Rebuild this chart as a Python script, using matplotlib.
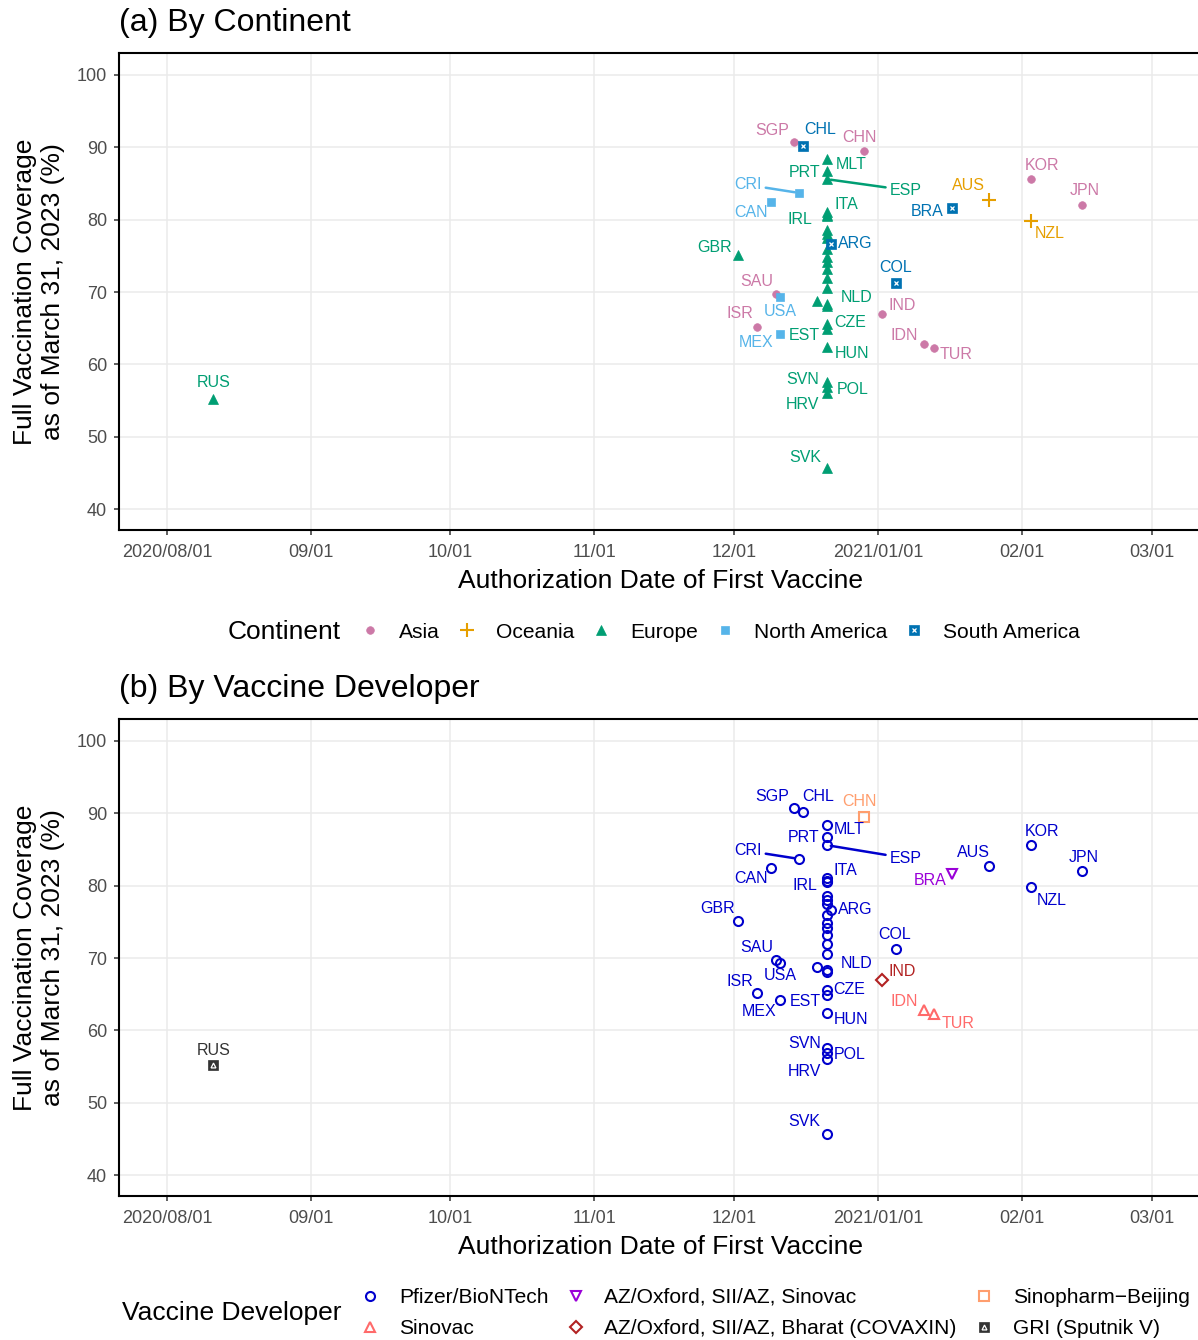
import pandas as pd
import matplotlib
matplotlib.use("Agg")
import matplotlib.pyplot as plt
import matplotlib.dates as mdates
from matplotlib.lines import Line2D

plt.rcParams['font.family'] = ['Liberation Sans', 'DejaVu Sans']

# ---- data ----
countries = ['RUS', 'GBR', 'ISR', 'CAN', 'SAU', 'USA', 'MEX', 'SGP', 'CRI', 'CHL',
             'CHE', 'MLT', 'PRT', 'ESP', 'ITA', 'DNK', 'IRL', 'BEL', 'FIN', 'FRA',
             'DEU', 'SWE', 'LUX', 'GRC', 'CYP', 'LTU', 'NLD', 'AUT', 'CZE', 'EST',
             'HUN', 'SVN', 'POL', 'HRV', 'SVK', 'ARG', 'CHN', 'IND', 'COL', 'IDN',
             'TUR', 'BRA', 'AUS', 'NZL', 'KOR', 'JPN']
auth_dates = ['2020-08-11', '2020-12-02', '2020-12-06', '2020-12-09', '2020-12-10',
              '2020-12-11', '2020-12-11', '2020-12-14', '2020-12-15', '2020-12-16',
              '2020-12-19', '2020-12-21', '2020-12-21', '2020-12-21', '2020-12-21',
              '2020-12-21', '2020-12-21', '2020-12-21', '2020-12-21', '2020-12-21',
              '2020-12-21', '2020-12-21', '2020-12-21', '2020-12-21', '2020-12-21',
              '2020-12-21', '2020-12-21', '2020-12-21', '2020-12-21', '2020-12-21',
              '2020-12-21', '2020-12-21', '2020-12-21', '2020-12-21', '2020-12-21',
              '2020-12-22', '2020-12-29', '2021-01-02', '2021-01-05', '2021-01-11',
              '2021-01-13', '2021-01-17', '2021-01-25', '2021-02-03', '2021-02-03',
              '2021-02-14']
coverage = [55.2, 75.1, 65.1, 82.5, 69.7, 69.3, 64.2, 90.8, 83.7, 90.2,
            68.8, 88.4, 86.7, 85.6, 81.0, 80.7, 80.5, 78.6, 78.0, 77.5,
            75.9, 74.8, 74.1, 73.2, 71.9, 70.6, 68.3, 68.0, 65.6, 64.9,
            62.4, 57.6, 56.8, 56.0, 45.7, 76.6, 89.5, 67.0, 71.2, 62.8,
            62.3, 81.6, 82.7, 79.8, 85.6, 82.0]
continents = ['Europe', 'Europe', 'Asia', 'North America', 'Asia', 'North America',
              'North America', 'Asia', 'North America', 'South America',
              'Europe', 'Europe', 'Europe', 'Europe', 'Europe', 'Europe', 'Europe',
              'Europe', 'Europe', 'Europe', 'Europe', 'Europe', 'Europe', 'Europe',
              'Europe', 'Europe', 'Europe', 'Europe', 'Europe', 'Europe', 'Europe',
              'Europe', 'Europe', 'Europe', 'Europe', 'South America', 'Asia', 'Asia',
              'South America', 'Asia', 'Asia', 'South America', 'Oceania', 'Oceania',
              'Asia', 'Asia']
PF = 'Pfizer/BioNTech'
developers = ['GRI (Sputnik V)'] + [PF] * 35 + \
             ['Sinopharm\u2212Beijing', 'AZ/Oxford, SII/AZ, Bharat (COVAXIN)', PF,
              'Sinovac', 'Sinovac', 'AZ/Oxford, SII/AZ, Sinovac', PF, PF, PF, PF]
hidden_labels = ['CHE', 'DNK', 'BEL', 'FIN', 'FRA', 'DEU', 'SWE', 'LUX', 'GRC',
                 'CYP', 'LTU', 'AUT']

tick_dates = ['2020-08-01', '2020-09-01', '2020-10-01', '2020-11-01', '2020-12-01',
              '2021-01-01', '2021-02-01', '2021-03-01']
tick_labels = ['2020/08/01', '09/01', '10/01', '11/01', '12/01', '2021/01/01',
               '02/01', '03/01']

continent_order = ['Asia', 'Oceania', 'Europe', 'North America', 'South America']
developer_order = [PF, 'Sinovac', 'AZ/Oxford, SII/AZ, Sinovac',
                   'AZ/Oxford, SII/AZ, Bharat (COVAXIN)', 'Sinopharm\u2212Beijing',
                   'GRI (Sputnik V)']

# ---- styles ----
continent_style = {
    'Asia': dict(color='#CC79A7', marker='o', ms=5.5, mfc='#CC79A7', mew=0.5),
    'Oceania': dict(color='#E69F00', marker='+', ms=10, mfc='none', mew=1.5),
    'Europe': dict(color='#009E73', marker='^', ms=6.5, mfc='#009E73', mew=0.5),
    'North America': dict(color='#56B4E9', marker='s', ms=6, mfc='#56B4E9', mew=0.5),
    'South America': dict(color='#0072B2', marker='s', ms=6.5, mfc='#0072B2', mew=0.5,
                          inner='x', inner_ms=3.5),
}
developer_style = {
    PF: dict(color='#0000CD', marker='o', ms=6.5, mfc='none', mew=1.5),
    'Sinovac': dict(color='#FF6A6A', marker='^', ms=7.5, mfc='none', mew=1.5),
    'AZ/Oxford, SII/AZ, Sinovac': dict(color='#9A00D8', marker='v', ms=7.5, mfc='none', mew=1.5),
    'AZ/Oxford, SII/AZ, Bharat (COVAXIN)': dict(color='#B22222', marker='D', ms=6, mfc='none', mew=1.5),
    'Sinopharm\u2212Beijing': dict(color='#FF9E6E', marker='s', ms=6.5, mfc='none', mew=1.5),
    'GRI (Sputnik V)': dict(color='#333333', marker='s', ms=6.5, mfc='#333333', mew=0.5,
                            inner='^', inner_ms=3.5),
}

# label offsets in pixels (dx right, dy up) -- ggrepel placements
offsets_a = {'RUS': (0, 17), 'GBR': (-24, 8), 'CAN': (-20, -11), 'CRI': (-51, 8),
             'ESP': (79, -11), 'SGP': (-22, 11), 'CHL': (17, 16), 'CHN': (-4, 13),
             'PRT': (-22, -1), 'MLT': (24, -6), 'ITA': (20, 8), 'IRL': (-27, -3),
             'ARG': (24, 1), 'COL': (-1, 16), 'SAU': (-19, 13), 'USA': (0, -14),
             'ISR': (-17, 14), 'MEX': (-24, -9), 'NLD': (30, 7), 'IND': (20, 8),
             'CZE': (23, 1), 'EST': (-22, -7), 'HUN': (25, -7), 'IDN': (-20, 9),
             'TUR': (22, -7), 'SVN': (-24, 2), 'POL': (26, -2), 'HRV': (-24, -11),
             'SVK': (-21, 10), 'BRA': (-25, -3), 'AUS': (-21, 15), 'NZL': (19, -12),
             'KOR': (11, 14), 'JPN': (2, 15)}
offsets_b = {'RUS': (0, 15), 'GBR': (-21, 13), 'CAN': (-20, -11), 'CRI': (-51, 8),
             'ESP': (79, -13), 'SGP': (-22, 11), 'CHL': (15, 15), 'CHN': (-4, 15),
             'PRT': (-23, 0), 'MLT': (22, -5), 'ITA': (19, 8), 'IRL': (-22, -3),
             'ARG': (24, 1), 'COL': (-2, 15), 'SAU': (-19, 13), 'USA': (0, -12),
             'ISR': (-17, 12), 'MEX': (-21, -12), 'NLD': (30, 7), 'IND': (20, 8),
             'CZE': (22, 0), 'EST': (-21, -7), 'HUN': (24, -7), 'IDN': (-20, 9),
             'TUR': (24, -10), 'SVN': (-22, 4), 'POL': (23, -1), 'HRV': (-22, -12),
             'SVK': (-22, 12), 'BRA': (-22, -6), 'AUS': (-16, 14), 'NZL': (21, -13),
             'KOR': (11, 14), 'JPN': (1, 14)}
segment_labels = ['CRI', 'ESP']

df = pd.DataFrame({'country': countries, 'date': pd.to_datetime(auth_dates),
                   'coverage': coverage, 'continent': continents,
                   'developer': developers})
df['x'] = mdates.date2num(df['date'])


def make_handles(st):
    h = Line2D([], [], linestyle='none', marker=st['marker'], ms=st['ms'],
               mfc=st['mfc'], mec=st['color'], mew=st['mew'])
    if 'inner' in st:
        h2 = Line2D([], [], linestyle='none', marker=st['inner'], ms=st['inner_ms'],
                    mfc='none', mec='white', mew=0.9)
        return (h, h2)
    return h


def draw_panel(ax, group_col, order, styles, offsets):
    for g in order:
        st = styles[g]
        sub = df[df[group_col] == g]
        ax.plot(sub['x'], sub['coverage'], linestyle='none', marker=st['marker'],
                ms=st['ms'], mfc=st['mfc'], mec=st['color'], mew=st['mew'], zorder=3)
        if 'inner' in st:
            ax.plot(sub['x'], sub['coverage'], linestyle='none', marker=st['inner'],
                    ms=st['inner_ms'], mfc='none', mec='white', mew=0.9, zorder=4)
        for _, r in sub.iterrows():
            if r['country'] in hidden_labels:
                continue
            dx, dy = offsets[r['country']]
            kw = {}
            if r['country'] in segment_labels:
                kw['arrowprops'] = dict(arrowstyle='-', color=st['color'], lw=1.8,
                                        shrinkA=1, shrinkB=3)
            ax.annotate(r['country'], (r['x'], r['coverage']), xytext=(dx, dy),
                        textcoords='offset pixels', ha='center', va='center',
                        fontsize=11.5, color=st['color'], zorder=5, **kw)

    ax.set_xlim(mdates.date2num(pd.Timestamp('2020-07-21 16:00')),
                mdates.date2num(pd.Timestamp('2021-03-10 22:00')))
    ax.set_ylim(37.1, 103.04)
    ax.set_xticks(mdates.date2num(pd.to_datetime(tick_dates)))
    ax.set_xticklabels(tick_labels)
    ax.set_yticks([40, 50, 60, 70, 80, 90, 100])
    ax.grid(True, color='#EBEBEB', lw=1.1)
    ax.set_axisbelow(True)
    ax.tick_params(direction='out', length=3.6, width=1.1, color='#333333',
                   labelcolor='#4D4D4D', labelsize=13)
    ax.tick_params(axis='x', pad=6.5)
    ax.tick_params(axis='y', pad=5)
    ax.spines['right'].set_visible(False)
    for s in ['left', 'top', 'bottom']:
        ax.spines[s].set_color('black')
        ax.spines[s].set_linewidth(1.5)
    ax.set_xlabel('Authorization Date of First Vaccine', fontsize=19, va='center')
    ax.xaxis.set_label_coords(0.5014, -0.107)
    ax.set_ylabel('Full Vaccination Coverage\nas of March 31, 2023 (%)', fontsize=19,
                  va='center', linespacing=1.2)
    ax.yaxis.set_label_coords(-0.0745, 0.5)


fig = plt.figure(figsize=(11.98, 13.4), dpi=100)
ax_a = fig.add_axes([119 / 1198, 810 / 1340, 1079 / 1198, 477 / 1340])
ax_b = fig.add_axes([119 / 1198, 144 / 1340, 1079 / 1198, 477 / 1340])

draw_panel(ax_a, 'continent', continent_order, continent_style, offsets_a)
draw_panel(ax_b, 'developer', developer_order, developer_style, offsets_b)

fig.text(119 / 1198, 1 - 23 / 1340, '(a) By Continent', fontsize=23, va='center', ha='left')
fig.text(119 / 1198, 1 - 689 / 1340, '(b) By Vaccine Developer', fontsize=23, va='center', ha='left')

# legends
fig.text(228 / 1198, 1 - 632 / 1340, 'Continent', fontsize=19, va='center', ha='left')
fig.legend([make_handles(continent_style[c]) for c in continent_order], continent_order,
           loc='center left', bbox_to_anchor=(359.6 / 1198, 1 - 632 / 1340),
           ncol=5, frameon=False, fontsize=15.1, handlelength=1.0, handletextpad=0.87,
           columnspacing=0.8, borderpad=0, borderaxespad=0)

fig.text(122 / 1198, 1 - 1313 / 1340, 'Vaccine Developer', fontsize=19, va='center', ha='left')
fig.legend([make_handles(developer_style[d]) for d in developer_order], developer_order,
           loc='center left', bbox_to_anchor=(359.6 / 1198, 1 - 1313 / 1340),
           ncol=3, frameon=False, fontsize=15.1, handlelength=1.0, handletextpad=0.87,
           columnspacing=0.8, borderpad=0, borderaxespad=0, labelspacing=0.58)

fig.savefig('out.png', dpi=100)
